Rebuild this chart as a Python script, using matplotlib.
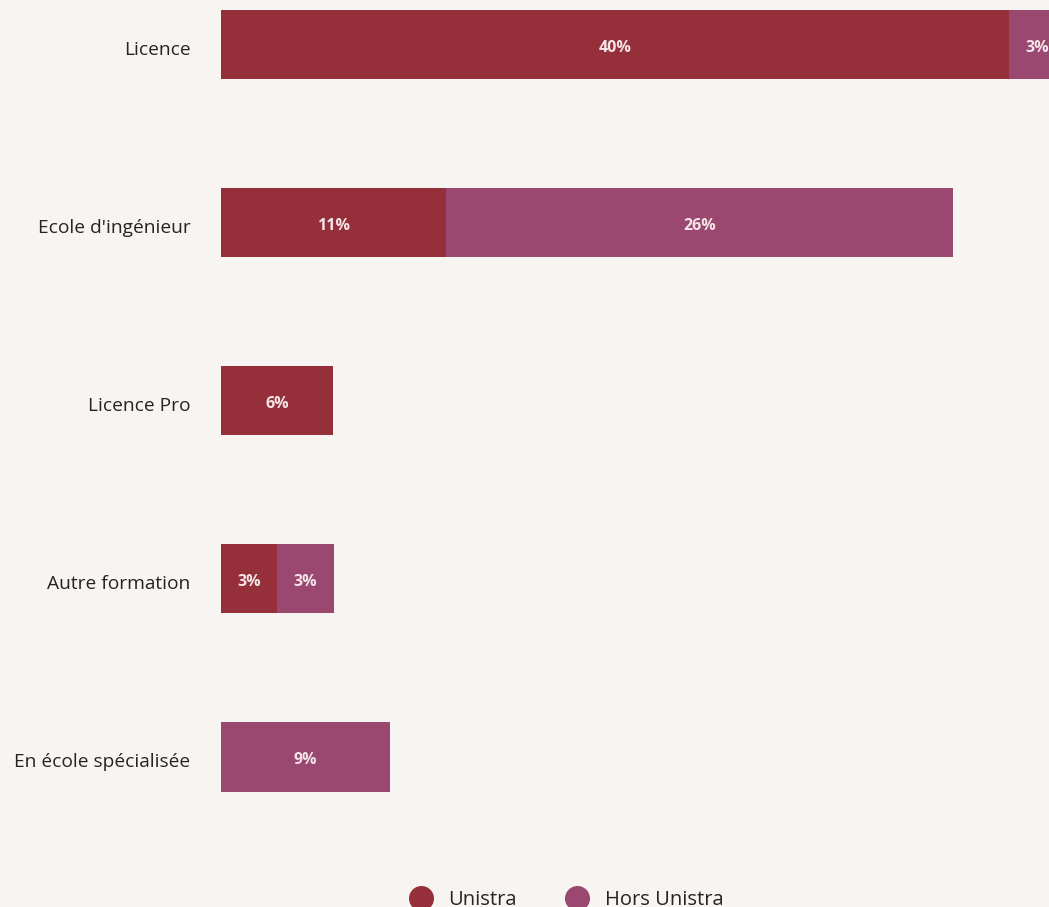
import matplotlib.pyplot as plt
from matplotlib.lines import Line2D
from matplotlib.transforms import ScaledTranslation
import numpy as np

# share of graduates by next programme (n = 35)
categories = ["Licence", "Ecole d'ingénieur", "Licence Pro", "Autre formation", "En école spécialisée"]
unistra = [40.0, 11.43, 5.71, 2.86, 0.0]
hors_unistra = [2.86, 25.71, 0.0, 2.86, 8.57]
series_names = ["Unistra", "Hors Unistra"]

bg = "#f8f4f1"
col_uni = "#952f39"
col_hors = "#9a4870"
txt = "#252423"

plt.rcParams['font.family'] = ['Open Sans', 'DejaVu Sans']

fig = plt.figure(figsize=(10.49, 9.07), dpi=100, facecolor=bg)
ax = fig.add_axes([221 / 1049, 0, 1 - 221 / 1049, 1])
ax.set_facecolor(bg)

y = np.arange(len(categories))
h = 0.388
uni = np.array(unistra)
hors = np.array(hors_unistra)
ax.barh(y, uni, height=h, color=col_uni, linewidth=0)
ax.barh(y, hors, left=uni, height=h, color=col_hors, linewidth=0)

for i in range(len(categories)):
    if uni[i] > 0:
        ax.text(uni[i] / 2, y[i] + 0.018, "{:.0f}%".format(uni[i]), ha='center', va='center',
                color='#f3e4e8', fontsize=11.5, fontweight='bold')
    if hors[i] > 0:
        ax.text(uni[i] + hors[i] / 2, y[i] + 0.018, "{:.0f}%".format(hors[i]), ha='center', va='center',
                color='#f3e4e8', fontsize=11.5, fontweight='bold', clip_on=False)

ax.set_xlim(0, 828 / 19.7)
ax.set_ylim(4 + 150 / 178.1, -44.5 / 178.1)
ax.set_yticks(y)
ax.set_yticklabels(categories, fontsize=13.8, color=txt)
ax.tick_params(axis='y', length=0, pad=22)
shift = ScaledTranslation(0, -3 / 100, fig.dpi_scale_trans)
for lab in ax.get_yticklabels():
    lab.set_transform(lab.get_transform() + shift)
ax.set_xticks([])
for s in ax.spines.values():
    s.set_visible(False)

# legend sits at the bottom edge, partly cut off as in the original
handles = [Line2D([], [], marker='o', linestyle='', markersize=17, color=c) for c in (col_uni, col_hors)]
fig.legend(handles, series_names, loc='center', bbox_to_anchor=(0.536, 0.008), ncol=2, frameon=False,
           fontsize=14.5, labelcolor=txt, handletextpad=0.35, columnspacing=2.0)

fig.savefig("out.png", dpi=100, facecolor=bg)
